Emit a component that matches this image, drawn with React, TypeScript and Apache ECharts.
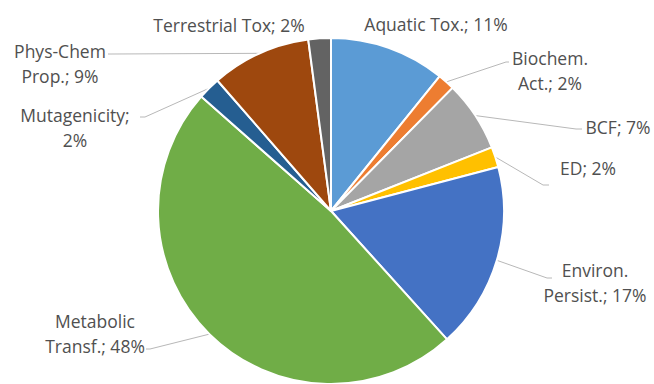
import React, { useEffect, useRef } from "react";
import * as echarts from "echarts";

// Categories (clockwise from 12 o'clock) and their shares (%)
const categories = [
  "Aquatic Tox.",
  "Biochem.\nAct.",
  "BCF",
  "ED",
  "Environ.\nPersist.",
  "Metabolic\nTransf.",
  "Mutagenicity",
  "Phys-Chem\nProp.",
  "Terrestrial Tox",
];
const shares = [10.8, 1.6, 6.6, 1.9, 17.4, 48.2, 2.1, 9.3, 2.1];
const colors = [
  "#5B9BD5",
  "#ED7D31",
  "#A5A5A5",
  "#FFC000",
  "#4472C4",
  "#70AD47",
  "#255E91",
  "#9E480E",
  "#636363",
];

// Label placement (layout only): label centre, line break style, leader-line elbow/end
type LabelPlace = { x: number; y: number; breakAfter?: boolean; line?: number[][] };
const labelPlaces: LabelPlace[] = [
  { x: 436, y: 24 },
  { x: 550, y: 70, line: [[506, 62], [509, 62]] },
  { x: 618, y: 127, line: [[576, 129], [582, 129]] },
  { x: 588, y: 168, line: [[543, 185], [549, 185]] },
  { x: 595, y: 282, line: [[547, 278], [552, 278]] },
  { x: 95, y: 333, line: [[150, 349], [146, 349]] },
  { x: 75, y: 127, breakAfter: true, line: [[145, 117], [140, 117]] },
  { x: 60, y: 63, line: [[112, 54], [108, 54]] },
  { x: 229, y: 25 },
];

export default function App() {
  const ref = useRef<HTMLDivElement>(null);
  useEffect(() => {
    document.body.style.margin = "0";
    if (!ref.current) return;
    const chart = echarts.init(ref.current, undefined, { renderer: "svg" });
    const data = categories.map((name, i) => ({
      name,
      value: shares[i],
      itemStyle: { color: colors[i] },
      labelLine: { show: !!labelPlaces[i].line },
    }));
    chart.setOption({
      animation: false,
      backgroundColor: "#ffffff",
      series: [
        {
          type: "pie",
          center: [331, 211],
          radius: [0, 173],
          startAngle: 90,
          clockwise: true,
          avoidLabelOverlap: false,
          data,
          itemStyle: { borderColor: "#ffffff", borderWidth: 2 },
          label: {
            show: true,
            position: "outside",
            color: "#505050",
            fontFamily: "'Open Sans', 'Noto Sans', sans-serif",
            fontSize: 17.5,
            lineHeight: 25,
            align: "center",
            formatter: (p: any) => {
              const place = labelPlaces[p.dataIndex];
              const pct = Math.round(p.value) + "%";
              return p.name + ";" + (place.breakAfter ? "\n" : " ") + pct;
            },
          },
          labelLine: {
            show: true,
            length: 10,
            length2: 10,
            smooth: false,
            lineStyle: { color: "#b8b8b8", width: 1 },
          },
          emphasis: { disabled: true },
          labelLayout: (params: any) => {
            const place = labelPlaces[params.dataIndex];
            const res: any = {
              x: place.x,
              y: place.y,
              align: "center",
              verticalAlign: "middle",
              hideOverlap: false,
            };
            if (place.line && params.labelLinePoints) {
              res.labelLinePoints = [params.labelLinePoints[0], place.line[0], place.line[1]];
            }
            return res;
          },
        },
      ],
    });
    return () => chart.dispose();
  }, []);
  return <div ref={ref} style={{ width: 654, height: 384 }} />;
}
